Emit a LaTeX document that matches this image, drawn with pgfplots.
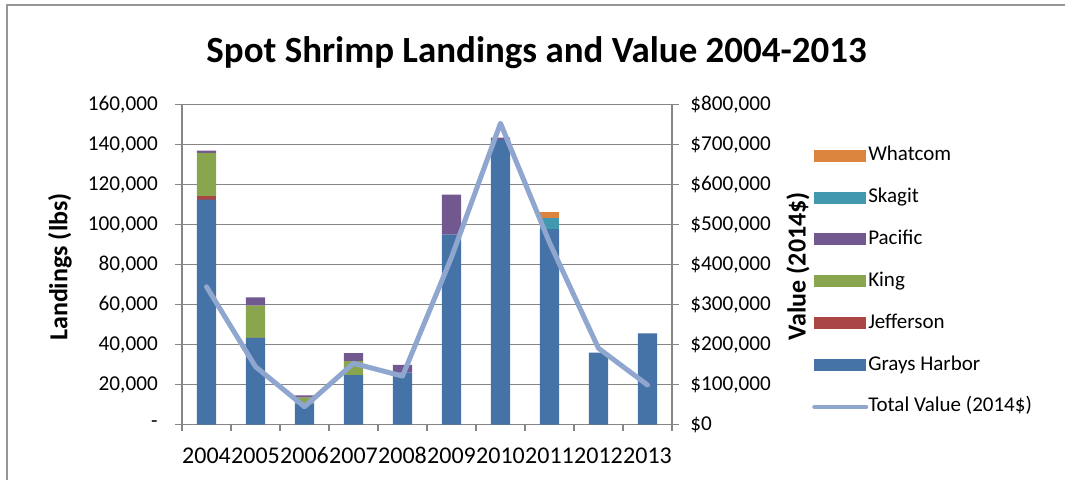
\documentclass[border=0pt]{standalone}
\usepackage{fontspec}
\setmainfont{Carlito}
\usepackage{pgfplots}
\pgfplotsset{compat=1.18}
\definecolor{cGH}{RGB}{69,114,167}
\definecolor{cJe}{RGB}{170,70,67}
\definecolor{cKi}{RGB}{137,165,78}
\definecolor{cPa}{RGB}{113,88,143}
\definecolor{cSk}{RGB}{65,152,175}
\definecolor{cWh}{RGB}{219,132,61}
\definecolor{cLn}{RGB}{143,167,206}
\definecolor{cGr}{RGB}{134,134,134}
\definecolor{cBd}{RGB}{150,150,150}
\pgfplotstableread{
x GH Je Ki Pa Sk Wh TV
0 112500 1600 21700 1100 0 0 344500
1 43300 0 16150 4150 0 0 144500
2 10600 0 2800 1200 0 0 44500
3 24700 0 7000 4000 0 0 153000
4 26000 0 0 3800 0 0 121000
5 94900 0 0 20100 0 0 418000
6 142200 0 0 1300 0 0 753000
7 97700 0 0 0 5800 3000 455000
8 36000 0 0 0 0 0 190500
9 45600 0 0 0 0 0 98750
}\data
\begin{document}
\begin{tikzpicture}[x=0.75pt,y=0.75pt]
\path[use as bounding box] (0,0) rectangle (1065,480);
\draw[cBd,line width=0.9pt] (7,0) -- (7,475) -- (1065,475);
\node[font=\bfseries\fontsize{27.7}{30}\selectfont,anchor=base] at (536.5,418) {Spot Shrimp Landings and Value 2004-2013};
\begin{axis}[
  at={(136.5pt,41.625pt)}, anchor=south west,
  width=367.5pt, height=240pt, scale only axis,
  xmin=-0.5, xmax=9.5, ymin=0, ymax=160000,
  scaled y ticks=false,
  ybar stacked, bar width=14.6pt,
  axis x line*=bottom, axis y line*=left,
  axis line style={cGr,line width=1pt,-},
  xtick={0,...,9},
  xticklabels={2004,2005,2006,2007,2008,2009,2010,2011,2012,2013},
  major x tick style={draw=none},
  minor xtick={-0.5,0.5,...,9.5},
  minor tick length=5pt,
  minor tick style={cGr,line width=1pt},
  tick align=outside,
  ytick={0,20000,...,160000},
  yticklabels={-,{20,000},{40,000},{60,000},{80,000},{100,000},{120,000},{140,000},{160,000}},
  major tick length=5pt,
  major tick style={cGr,line width=1pt},
  ymajorgrids, grid style={cGr,line width=1pt},
  yticklabel style={font=\fontsize{15.9}{18}\selectfont,anchor=east,inner sep=0pt,xshift=-13pt},
  xticklabel style={font=\fontsize{18}{20}\selectfont,anchor=base,inner sep=0pt,yshift=-24.5pt},
  ylabel={Landings (lbs)},
  every axis y label/.style={at={(rel axis cs:-0.249,0.492)},rotate=90,anchor=center,
    font=\bfseries\fontsize{19.5}{22}\selectfont},
  legend style={at={(rel axis cs:1.2857,0.871)},anchor=north west,draw=none,fill=none,
    inner sep=0pt,row sep=16.9pt,
    font=\fontsize{15.75}{18}\selectfont,
    nodes={inner sep=0pt,text height=11pt,text depth=3.5pt,xshift=1pt}},
  legend cell align=left,
  legend image code/.code={\fill[#1] (0pt,-4.5pt) rectangle (39pt,4.5pt);},
]
\addlegendimage{fill=cWh,draw=none}\addlegendentry{Whatcom}
\addlegendimage{fill=cSk,draw=none}\addlegendentry{Skagit}
\addlegendimage{fill=cPa,draw=none}\addlegendentry{Pacific}
\addlegendimage{fill=cKi,draw=none}\addlegendentry{King}
\addlegendimage{fill=cJe,draw=none}\addlegendentry{Jefferson}
\addlegendimage{fill=cGH,draw=none}\addlegendentry{Grays Harbor}
\addlegendimage{legend image code/.code={\draw[cLn,line width=3pt,line cap=round] (0pt,0pt) -- (39pt,0pt);}}\addlegendentry{Total Value (2014\$)}
\addplot[fill=cGH,draw=none,forget plot] table[x=x,y=GH]{\data};
\addplot[fill=cJe,draw=none,forget plot] table[x=x,y=Je]{\data};
\addplot[fill=cKi,draw=none,forget plot] table[x=x,y=Ki]{\data};
\addplot[fill=cPa,draw=none,forget plot] table[x=x,y=Pa]{\data};
\addplot[fill=cSk,draw=none,forget plot] table[x=x,y=Sk]{\data};
\addplot[fill=cWh,draw=none,forget plot] table[x=x,y=Wh]{\data};
\end{axis}
\begin{axis}[
  at={(136.5pt,41.625pt)}, anchor=south west,
  width=367.5pt, height=240pt, scale only axis,
  xmin=-0.5, xmax=9.5, ymin=0, ymax=800000,
  scaled y ticks=false,
  axis x line=none, axis y line*=right,
  axis line style={cGr,line width=1pt,-},
  ytick={0,100000,...,800000},
  yticklabels={\$0,{\$100,000},{\$200,000},{\$300,000},{\$400,000},{\$500,000},{\$600,000},{\$700,000},{\$800,000}},
  tick align=outside, major tick length=5pt,
  major tick style={cGr,line width=1pt},
  yticklabel style={font=\fontsize{15.9}{18}\selectfont,anchor=west,inner sep=0pt,xshift=8.5pt},
  ylabel={Value (2014\$)},
  every axis y label/.style={at={(rel axis cs:1.257,0.495)},rotate=90,anchor=center,
    font=\bfseries\fontsize{19.5}{22}\selectfont},
]
\addplot[cLn,line width=3.75pt,line join=round,line cap=round] table[x=x,y=TV]{\data};
\end{axis}
\end{tikzpicture}
\end{document}
